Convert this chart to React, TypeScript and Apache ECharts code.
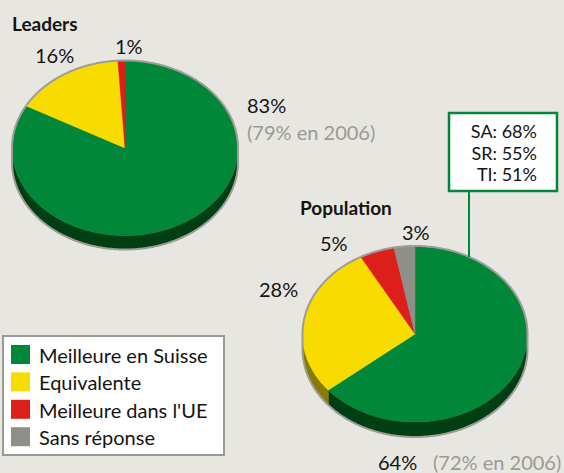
import React, { useEffect, useRef } from "react";
import * as echarts from "echarts";

// ---- data ----
const categories = ["Meilleure en Suisse", "Equivalente", "Meilleure dans l'UE", "Sans réponse"];
const leadersValues = [83, 16, 1];
const populationValues = [64, 28, 5, 3];
const leadersTitle = "Leaders";
const populationTitle = "Population";
const leadersPrevious = "(79% en 2006)";
const populationPrevious = "(72% en 2006)";
const regionLabels = ["SA: 68%", "SR: 55%", "TI: 51%"];

// ---- styles ----
const topColors = ["#00873a", "#f8dc00", "#dc1f1b", "#8e8f89"];
const sideColors = ["#003f14", "#877c00", "#6e0f0d", "#4a4b47"];
const outlineColor = "#9d9d98";
const bg = "#e8e6e1";
const FONT = "Lato, 'Open Sans', sans-serif";
const textColor = "#141414";
const grayText = "#9a9a95";

type Geom = { cx: number; cy: number; rx: number; ry: number; depth: number };

function pie3D(name: string, values: number[], g: Geom) {
  const total = values.reduce((a, b) => a + b, 0);
  let acc = 0;
  const spans = values.map((v) => {
    const s = [acc / total, (acc + v) / total];
    acc += v;
    return s;
  });
  const data = values.map((v, i) => ({ value: v, name: categories[i] }));
  const pt = (deg: number, dy = 0) => {
    const r = (deg * Math.PI) / 180;
    return [g.cx + g.rx * Math.cos(r), g.cy + g.ry * Math.sin(r) + dy];
  };
  const arc = (a: number, b: number, dy = 0) => {
    const pts: number[][] = [];
    const n = Math.max(1, Math.ceil(Math.abs(b - a)));
    for (let k = 0; k <= n; k++) pts.push(pt(a + ((b - a) * k) / n, dy));
    return pts;
  };
  return {
    type: "custom",
    name,
    coordinateSystem: "none",
    data,
    silent: true,
    renderItem: (params: any, api: any) => {
      const i = params.dataIndex;
      const v = api.value(0);
      if (!(v > 0)) return null;
      const p0 = -90 + spans[i][0] * 360;
      const p1 = -90 + spans[i][1] * 360;
      const children: any[] = [];
      // side wall (front half only)
      const sa = Math.max(p0, 0);
      const sb = Math.min(p1, 180);
      if (sb > sa) {
        children.push({
          type: "polygon",
          shape: { points: [...arc(sa, sb), ...arc(sb, sa, g.depth)] },
          style: { fill: sideColors[i], stroke: sideColors[i], lineWidth: 0.5 },
        });
      }
      // top face
      children.push({
        type: "polygon",
        shape: { points: [[g.cx, g.cy], ...arc(p0, p1)] },
        style: { fill: topColors[i], stroke: topColors[i], lineWidth: 0.5 },
      });
      // silhouette outline
      const lineStyle = { fill: null, stroke: outlineColor, lineWidth: 2 };
      const backRanges = [
        [-90, 0],
        [180, 270],
      ];
      backRanges.forEach(([a, b]) => {
        const x = Math.max(p0, a);
        const y = Math.min(p1, b);
        if (y > x) children.push({ type: "polyline", shape: { points: arc(x, y) }, style: lineStyle });
      });
      if (sb > sa) children.push({ type: "polyline", shape: { points: arc(sa, sb, g.depth) }, style: lineStyle });
      [0, 180].forEach((d) => {
        if (p0 <= d && d <= p1) {
          const a = pt(d);
          const b = pt(d, g.depth);
          children.push({ type: "line", shape: { x1: a[0], y1: a[1], x2: b[0], y2: b[1] }, style: { stroke: outlineColor, lineWidth: 2 } });
        }
      });
      return { type: "group", children };
    },
  };
}

function txt(text: string, x: number, y: number, opts: any = {}) {
  return {
    type: "text",
    x,
    y,
    silent: true,
    style: {
      text,
      fill: opts.fill || textColor,
      font: `${opts.bold ? "bold " : ""}${opts.size || 20}px ${FONT}`,
      align: opts.align || "left",
      verticalAlign: "middle",
    },
    z: opts.z || 10,
  };
}

export default function App() {
  const ref = useRef<HTMLDivElement>(null);
  useEffect(() => {
    const chart = echarts.init(ref.current!, null, { renderer: "svg" });
    const leadersG: Geom = { cx: 125, cy: 148, rx: 113, ry: 87.5, depth: 14 };
    const popG: Geom = { cx: 415, cy: 334, rx: 112.5, ry: 88, depth: 15 };

    const legend: any[] = [
      {
        type: "rect",
        shape: { x: 3, y: 336, width: 221, height: 119 },
        style: { fill: "#ffffff", stroke: "#9a9b95", lineWidth: 2 },
        z: 5,
      },
    ];
    categories.forEach((c, i) => {
      const cy = 354.5 + i * 27.4;
      legend.push({
        type: "rect",
        shape: { x: 11, y: cy - 9.5, width: 19, height: 19 },
        style: { fill: topColors[i] },
        z: 6,
      });
      legend.push(txt(c, 39, cy + 0.5, { size: 20 }));
    });

    const graphics: any[] = [
      txt(leadersTitle, 12, 23.5, { bold: true, size: 19 }),
      txt(`${leadersValues[1]}%`, 35, 55),
      txt(`${leadersValues[2]}%`, 115, 46),
      txt(`${leadersValues[0]}%`, 247, 105),
      txt(leadersPrevious, 247, 132, { fill: grayText }),
      txt(populationTitle, 300, 207, { bold: true, size: 19 }),
      txt(`${populationValues[3]}%`, 402, 232),
      txt(`${populationValues[2]}%`, 320, 243),
      txt(`${populationValues[1]}%`, 259, 289),
      txt(`${populationValues[0]}%`, 378, 462),
      txt(populationPrevious, 433, 462, { fill: grayText }),
      {
        type: "line",
        shape: { x1: 469, y1: 190, x2: 469, y2: 257 },
        style: { stroke: topColors[0], lineWidth: 2 },
        z: 20,
      },
      {
        type: "rect",
        shape: { x: 449, y: 113, width: 108, height: 78 },
        style: { fill: "#ffffff", stroke: topColors[0], lineWidth: 2.5 },
        z: 20,
      },
      ...regionLabels.map((t, i) => txt(t, 537, 131 + i * 21.6, { align: "right", z: 21, size: 18 })),
      ...legend,
    ];

    chart.setOption({
      animation: false,
      backgroundColor: bg,
      series: [pie3D(leadersTitle, leadersValues, leadersG), pie3D(populationTitle, populationValues, popG)],
      graphic: graphics,
    });
    return () => chart.dispose();
  }, []);
  return <div ref={ref} style={{ position: "absolute", left: 0, top: 0, width: 564, height: 473 }} />;
}
